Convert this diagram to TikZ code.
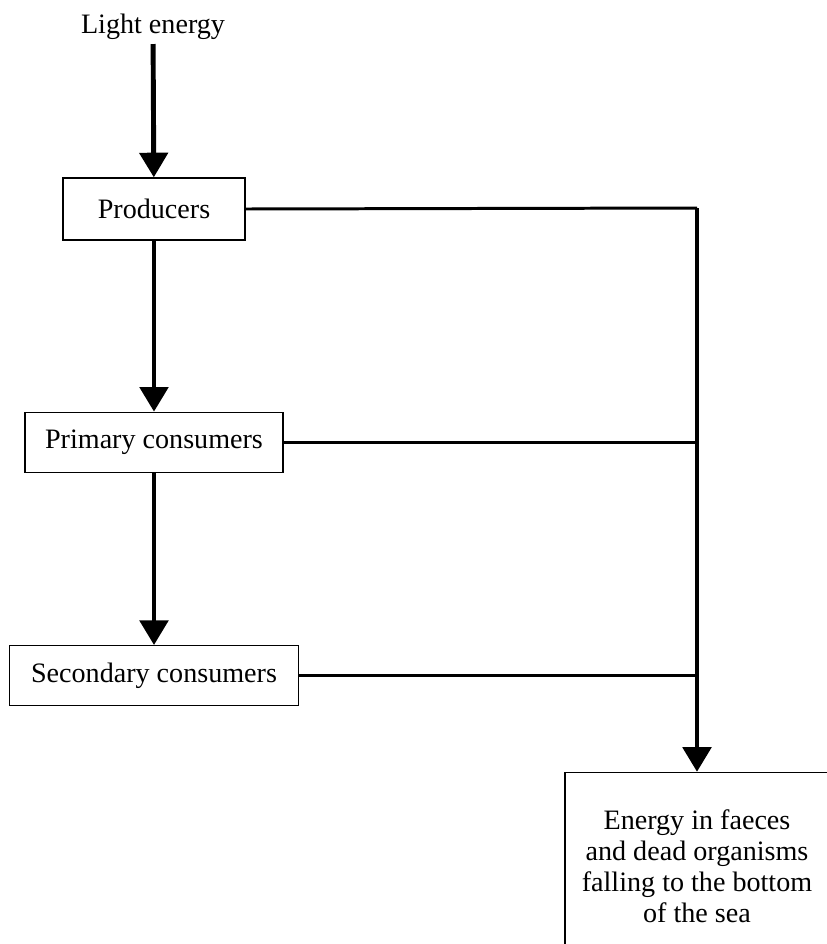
\documentclass[tikz,border=0pt]{standalone}
\usepackage{fontspec}
\setmainfont{Liberation Serif}
\usetikzlibrary{positioning,arrows.meta}
\tikzset{every picture/.style={line width=0.8pt}}

\begin{document}
\begin{tikzpicture}[x=0.02cm, y=-0.02cm, node distance=3.42cm,
    level/.style={draw, rectangle, minimum height=1.2cm, inner sep=0pt, font=\fontsize{16}{18}\selectfont},
    flow/.style={line width=2.8pt, -{Triangle[width=16pt,length=14pt]}},
    link/.style={line width=1.7pt}]
    \useasboundingbox (0,0) rectangle (827,944);
    \clip (0,0) rectangle (827,944);

    % Trophic levels
    \node[font=\fontsize{16}{18}\selectfont, inner sep=2pt] (light) at (153,27) {Light energy};
    \node[level, minimum width=3.64cm, minimum height=1.24cm] (prod) at (154,209) {Producers};
    \node[level, minimum width=5.16cm, below=3.42cm of prod] (prim) {Primary consumers};
    \node[level, minimum width=5.78cm, below=3.44cm of prim] (sec) {Secondary consumers};
    \node[level, minimum width=5.28cm, minimum height=3.74cm, align=center,
          font=\fontsize{16}{17.6}\selectfont] (dead) at (697,866) {Energy in faeces\\and dead organisms\\falling to the bottom\\of the sea};
    \coordinate (drop) at (697,208);

    % Food chain
    \draw[flow] (light) -- (prod);
    \draw[flow] (prod) -- (prim);
    \draw[flow] (prim) -- (sec);

    % Losses to the sea floor
    \draw[link] (prod.east) -- (drop);
    \draw[link] (prim.east) -- (prim.east -| drop);
    \draw[link] (sec.east) -- (sec.east -| drop);
    \draw[flow] (drop) -- (dead.north -| drop);
\end{tikzpicture}
\end{document}
